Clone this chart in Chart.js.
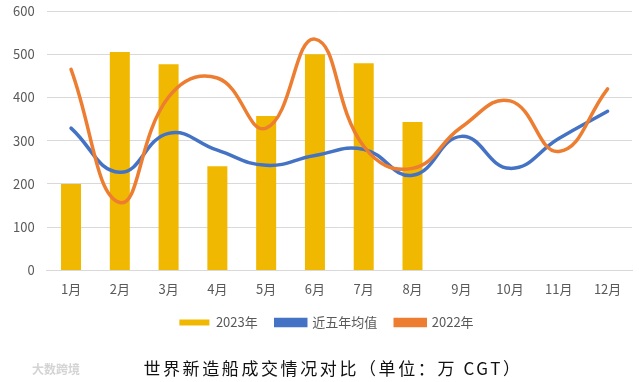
<!DOCTYPE html>
<html>
<head>
<meta charset="utf-8">
<script src="https://cdn.jsdelivr.net/npm/chart.js@4/dist/chart.umd.min.js"></script>
<style>
  html, body { margin: 0; padding: 0; background: #fff; }
  #wrap { width: 639px; height: 382px; }
</style>
</head>
<body>
<div id="wrap"><canvas id="c" width="639" height="382"></canvas></div>
<script>
const months = ['1月','2月','3月','4月','5月','6月','7月','8月','9月','10月','11月','12月'];
const data2023 = [200, 505, 477, 241, 357, 500, 479, 343, null, null, null, null];
const avg5y = [329, 227, 317, 278, 243, 266, 280, 220, 310, 236, 305, 368];
const data2022 = [465, 157, 401, 445, 329, 535, 287, 236, 331, 392, 275, 420];
const seriesNames = ['2023年', '近五年均值', '2022年'];
const titleText = '世界新造船成交情况对比（单位：万 CGT）';
const watermark = '大数跨境';

const FONT = '"Noto Sans CJK SC", "Noto Sans", sans-serif';

const bottomText = {
  id: 'bottomText',
  afterLayout(chart) {
    if (chart.legend) {
      chart.legend.left += 10;
      chart.legend.right += 10;
    }
  },
  afterDraw(chart) {
    const ctx = chart.ctx;
    ctx.save();
    ctx.fillStyle = '#111';
    ctx.font = '17px ' + FONT;
    try { ctx.letterSpacing = '2.6px'; } catch (e) {}
    ctx.textAlign = 'center';
    ctx.textBaseline = 'middle';
    ctx.fillText(titleText, 333, 369);
    try { ctx.letterSpacing = '0px'; } catch (e) {}
    ctx.fillStyle = '#d4d4d4';
    ctx.font = 'bold 12px ' + FONT;
    ctx.textAlign = 'left';
    ctx.fillText(watermark, 32, 369);
    ctx.restore();
  }
};

new Chart(document.getElementById('c'), {
  type: 'bar',
  data: {
    labels: months,
    datasets: [
      {
        type: 'bar',
        label: seriesNames[0],
        data: data2023,
        backgroundColor: '#F0B800',
        borderWidth: 0,
        barPercentage: 0.41,
        categoryPercentage: 1,
        order: 2
      },
      {
        type: 'line',
        label: seriesNames[1],
        data: avg5y,
        borderColor: '#4472C4',
        backgroundColor: '#4472C4',
        borderWidth: 3.5,
        pointRadius: 0,
        tension: 0.45,
        fill: false,
        borderCapStyle: 'round',
        order: 1
      },
      {
        type: 'line',
        label: seriesNames[2],
        data: data2022,
        borderColor: '#ED7D31',
        backgroundColor: '#ED7D31',
        borderWidth: 3.5,
        pointRadius: 0,
        tension: 0.45,
        fill: false,
        borderCapStyle: 'round',
        order: 0
      }
    ]
  },
  options: {
    responsive: false,
    animation: false,
    devicePixelRatio: 1,
    layout: { padding: { top: 0, right: 7, left: 1, bottom: 43 } },
    scales: {
      x: {
        grid: { display: false, drawTicks: false },
        border: { display: true, color: '#d9d9d9', width: 1 },
        ticks: { color: '#595959', font: { size: 13, family: FONT }, padding: 11, maxRotation: 0 },
        afterFit: (s) => { s.height = 27.6; }
      },
      y: {
        min: 0, max: 600,
        ticks: { stepSize: 100, color: '#595959', font: { size: 13, family: FONT }, padding: 12 },
        grid: { color: '#d9d9d9', drawTicks: false },
        border: { display: false },
        afterFit: (s) => { s.paddingTop = 11; s.paddingBottom = 8; }
      }
    },
    plugins: {
      legend: {
        position: 'bottom',
        labels: {
          color: '#595959',
          font: { size: 13, family: FONT },
          boxWidth: 30,
          boxHeight: 6,
          padding: 18,
          sort: (a, b) => a.datasetIndex - b.datasetIndex
        }
      },
      tooltip: { enabled: false },
      title: { display: false }
    }
  },
  plugins: [bottomText]
});
</script>
</body>
</html>
